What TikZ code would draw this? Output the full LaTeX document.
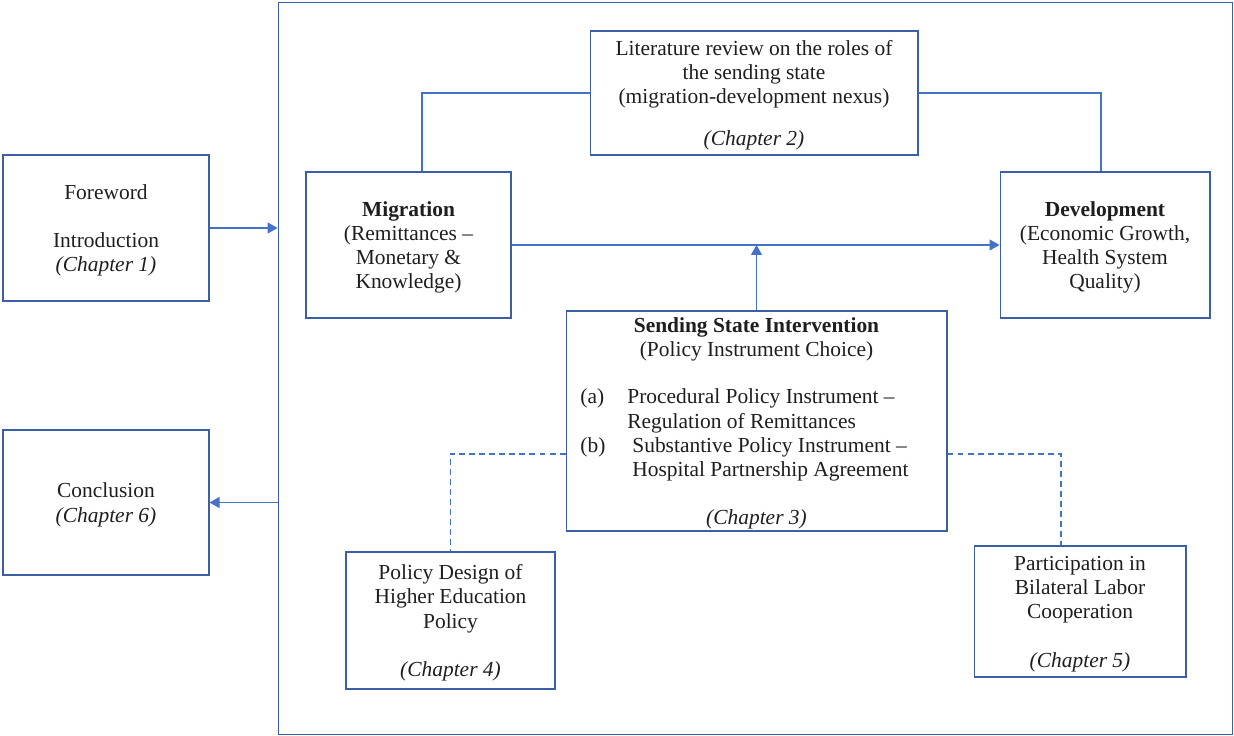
\documentclass[tikz,border=0pt]{standalone}
\usepackage{fontspec}
\setmainfont{Liberation Serif}
\usetikzlibrary{arrows.meta, positioning, calc}
\definecolor{boxblue}{HTML}{3B5EA6}
\definecolor{linkblue}{HTML}{4472C4}
\definecolor{txtgray}{HTML}{1E1E1E}

\begin{document}
\begin{tikzpicture}[
  x=0.02cm, y=-0.02cm,
  >={Triangle[length=2mm, width=2.2mm]},
  chapbox/.style 2 args={
    draw=boxblue, line width=0.6pt, minimum width=#1, minimum height=#2,
    font=\fontsize{12.2}{13.8}\selectfont, text=txtgray, align=center,
    inner sep=2pt, text depth=0pt
  },
  link/.style={line width=0.6pt, linkblue},
  arr/.style={->, line width=0.6pt, linkblue},
  dlink/.style={dashed, dash pattern=on 3.4pt off 2.3pt, line width=0.6pt, linkblue},
]

\useasboundingbox (0,0) rectangle (1234,736);

% =============================================
% Outer frame
% =============================================
\node[chapbox={19.1cm}{14.66cm}] (frame) at (755.5,368.5) {};

% =============================================
% Left column
% =============================================
\node[chapbox={4.12cm}{2.92cm}] (fore) at (106,228)
  {Foreword\\[\baselineskip]
   Introduction\\
   \textit{(Chapter 1)}};

\node[chapbox={4.12cm}{2.9cm}] (concl) at (106,502.5)
  {Conclusion\\
   \textit{(Chapter 6)}};

\draw[arr] (fore.east) -- (fore.east -| frame.west);
\draw[arr] (frame.west |- concl.east) -- (concl.east);

% =============================================
% Top row
% =============================================
\node[chapbox={6.56cm}{2.48cm}] (lit) at (754,93)
  {Literature review on the roles of\\
   the sending state\\
   (migration-development nexus)\\[10pt]
   \textit{(Chapter 2)}};

\node[chapbox={4.1cm}{2.92cm}] (mig) at (408.5,245)
  {\textbf{Migration}\\
   (Remittances --\\
   Monetary \&\\
   Knowledge)};

\node[chapbox={4.2cm}{2.92cm}] (dev) at (1105,245)
  {\textbf{Development}\\
   (Economic Growth,\\
   Health System\\
   Quality)};

\draw[link] (lit.west) -| ([xshift=0.27cm]mig.north);
\draw[link] (lit.east) -| ([xshift=-0.08cm]dev.north);
\draw[arr] (mig.east) -- (dev.west);

% =============================================
% Sending state intervention
% =============================================
\node[chapbox={7.62cm}{4.4cm}] (send) at (756.5,421)
  {\textbf{Sending State Intervention}\\
   (Policy Instrument Choice)\\[\baselineskip]
   \mbox{\begin{tabular}{@{}p{0.94cm}@{}l@{}}
   (a) & Procedural Policy Instrument --\\
       & Regulation of Remittances\\
   (b) & \hspace{0.1cm}Substantive Policy Instrument --\\
       & \hspace{0.1cm}Hospital Partnership Agreement
   \end{tabular}\kern0.48cm}\\[\baselineskip]
   \textit{(Chapter 3)}};

\draw[arr] (send.north) -- (send.north |- mig.east);

% =============================================
% Bottom row
% =============================================
\node[chapbox={4.18cm}{2.74cm}] (hedu) at (450.5,620.5)
  {Policy Design of\\
   Higher Education\\
   Policy\\[\baselineskip]
   \textit{(Chapter 4)}};

\node[chapbox={4.24cm}{2.62cm}] (labor) at (1080,611.5)
  {Participation in\\
   Bilateral Labor\\
   Cooperation\\[\baselineskip]
   \textit{(Chapter 5)}};

\draw[dlink] ([yshift=-0.66cm]send.west) -| (hedu.north);
\draw[dlink] ([yshift=-0.66cm]send.east) -| ([xshift=-0.38cm]labor.north);

\end{tikzpicture}
\end{document}
